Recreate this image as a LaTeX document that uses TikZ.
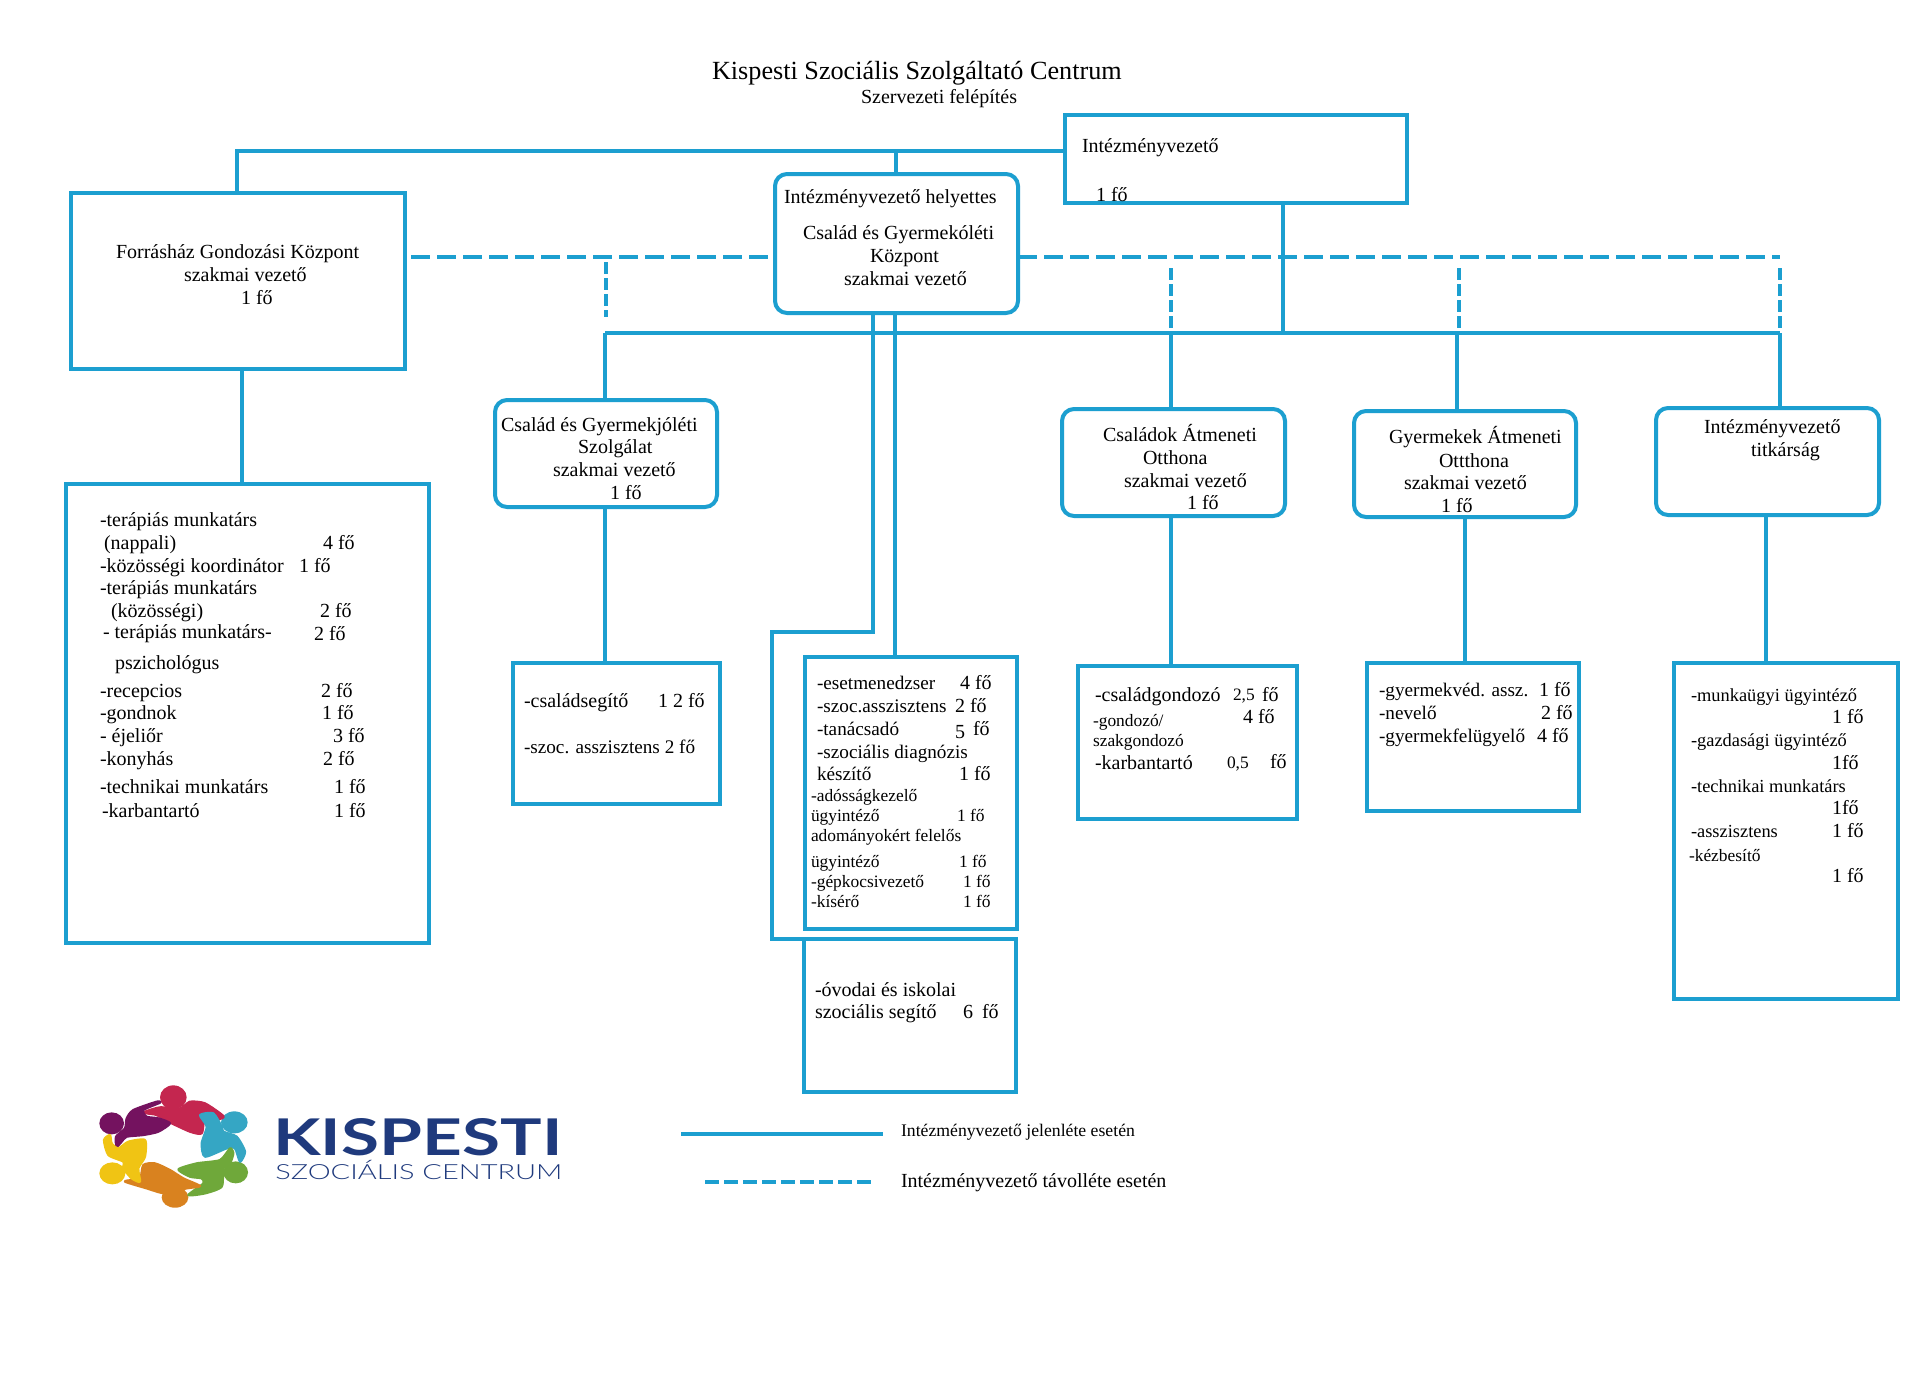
\documentclass[tikz,border=0pt]{standalone}
\usepackage{fontspec}
\usepackage{graphicx}
\setmainfont{Liberation Serif}
\newfontfamily\logofont{Lato}
\newfontfamily\logolight{Lato Light}
\definecolor{lineblue}{HTML}{1C9FD0}
\definecolor{logonavy}{HTML}{1F3A7D}
\definecolor{lgcrimson}{HTML}{C4264F}
\definecolor{lgpurple}{HTML}{74125F}
\definecolor{lgteal}{HTML}{35A6C4}
\definecolor{lggreen}{HTML}{6FA83A}
\definecolor{lgorange}{HTML}{D9821F}
\definecolor{lgyellow}{HTML}{F0C414}
\tikzset{
  plainbox/.style={draw=lineblue,line width=2pt,rectangle,inner sep=0pt,outer sep=0pt},
  roundbox/.style={plainbox,rounded corners=6pt},
  conn/.style={draw=lineblue,line width=1.8pt},
  dashh/.style={draw=lineblue,line width=2.4pt,dash pattern=on 9.5pt off 3.5pt},
  dashv/.style={draw=lineblue,line width=1.7pt,dash pattern=on 6pt off 2pt},
  dashlegend/.style={draw=lineblue,line width=2.2pt,dash pattern=on 7pt off 2.5pt},
  lbl/.style={anchor=base west,inner sep=0pt,outer sep=0pt,text=black,font=\fontsize{10}{12}\selectfont},
  sm/.style={font=\fontsize{8.7}{10}\selectfont},
  sn/.style={font=\fontsize{9.2}{11}\selectfont},
  mid/.style={font=\fontsize{9.6}{11}\selectfont},
  ttl/.style={font=\fontsize{13.1}{15}\selectfont},
  person/.style={line width=1.1pt,line join=round},
}
\newcounter{tn}
\newcommand\T[4][]{\stepcounter{tn}\node[lbl,#1] (t\arabic{tn}) at (#2,#3) {#4};}
\newcommand\Bx[6][plainbox]{\pgfmathsetmacro\bw{(#5-#3)*0.5}\pgfmathsetmacro\bh{(#6-#4)*0.5}%
  \node[#1,minimum width=\bw pt,minimum height=\bh pt] (#2) at ({(#3+#5)/2},{(#4+#6)/2}) {};}
\begin{document}
\begin{tikzpicture}[x=0.5pt,y=-0.5pt]
\useasboundingbox[fill=white] (0,0) rectangle (1920,1392);

% boxes
\Bx{fh}{71}{193}{405}{369}
\Bx{iv}{1065}{115}{1407}{203}
\Bx[roundbox]{dep}{775}{174}{1018}{313}
\Bx[roundbox]{cs}{495}{400}{717}{507}
\Bx[roundbox]{ca}{1062}{409}{1285}{516}
\Bx[roundbox]{gy}{1354}{411}{1576}{517}
\Bx[roundbox]{ti}{1656}{408}{1879}{515}
\Bx{fhs}{66}{484}{429}{943}
\Bx{css}{513}{663}{720}{804}
\Bx{cas}{805}{657}{1017}{929}
\Bx{ov}{804}{939}{1016}{1092}
\Bx{cag}{1078}{666}{1297}{819}
\Bx{gys}{1367}{663}{1579}{811}
\Bx{tis}{1674}{663}{1898}{999}

% bus coordinates
\coordinate (topL) at (237,151);
\coordinate (depx) at (896,151);
\coordinate (busL) at (605,333);
\coordinate (busR) at (1780,333);
\coordinate (ivb)  at (1283,333);
\coordinate (cab)  at (1171,333);
\coordinate (gyb)  at (1457,333);
\coordinate (dl)   at (411,257);
\coordinate (dr)   at (1780,257);
\coordinate (dcs)  at (606,262);
\coordinate (dcse) at (606,317);
\coordinate (dca)  at (1171,268);
\coordinate (dcae) at (1171,328);
\coordinate (dgy)  at (1459,268);
\coordinate (dgye) at (1459,328);
\coordinate (dti)  at (1780,268);
\coordinate (dtie) at (1780,328);
\coordinate (l1a)  at (873,632);
\coordinate (l1b)  at (772,632);
\coordinate (l1c)  at (772,939);
\coordinate (l2)   at (895,400);
\coordinate (fhx)  at (242,400);
\coordinate (tix)  at (1766,600);
\coordinate (gyx)  at (1465,600);

% solid connectors
\draw[conn] (topL |- fh.north) -- (topL) -- (topL -| iv.west);
\draw[conn] (depx) -- (depx |- dep.north);
\draw[conn] (ivb |- iv.south) -- (ivb);
\draw[conn] (busL) -- (busR);
\draw[conn] (busL) -- (busL |- cs.north);
\draw[conn] (cab) -- (cab |- ca.north);
\draw[conn] (gyb) -- (gyb |- gy.north);
\draw[conn] (busR) -- (busR |- ti.north);
\draw[conn] (fhx |- fh.south) -- (fhx |- fhs.north);
\draw[conn] (busL |- cs.south) -- (busL |- css.north);
\draw[conn] (cab |- ca.south) -- (cab |- cag.north);
\draw[conn] (gyx |- gy.south) -- (gyx |- gys.north);
\draw[conn] (tix |- ti.south) -- (tix |- tis.north);
\draw[conn] (l1a |- dep.south) -- (l1a) -- (l1b) -- (l1c) -- (ov.north west);
\draw[conn] (l2 |- dep.south) -- (l2 |- cas.north);

% dashed connectors
\draw[dashh] (dl) -- (dl -| dep.west);
\draw[dashh] (dl -| dep.east) -- (dr);
\draw[dashv] (dcs) -- (dcse);
\draw[dashv] (dca) -- (dcae);
\draw[dashv] (dgy) -- (dgye);
\draw[dashv] (dti) -- (dtie);

% legend
\coordinate (lg1) at (681,1134);
\coordinate (lg1e) at (883,1134);
\coordinate (lg2) at (705,1182);
\coordinate (lg2e) at (874,1182);
\draw[conn,line width=2.2pt] (lg1) -- (lg1e);
\draw[dashlegend] (lg2) -- (lg2e);
\T[font=\fontsize{8.85}{10}\selectfont]{901}{1136}{Intézményvezető jelenléte esetén}
\T{901}{1187}{Intézményvezető távolléte esetén}

% title
\T[ttl]{712}{79}{Kispesti Szociális Szolgáltató Centrum}
\T{861}{103}{Szervezeti felépítés}

% Forrásház
\T{116}{258}{Forrásház Gondozási Központ}
\T{184}{281}{szakmai vezető}
\T{241}{304}{1 fő}
% Deputy
\T{784}{203}{Intézményvezető helyettes}
\T{803}{239}{Család és Gyermekóléti}
\T{870}{262}{Központ}
\T{844}{285}{szakmai vezető}
% Család box
\T{501}{431}{Család és Gyermekjóléti}
\T{578}{453}{Szolgálat}
\T{553}{476}{szakmai vezető}
\T{610}{499}{1 fő}
% Intézményvezető
\T{1082}{152}{Intézményvezető}
\T{1096}{201}{1 fő}
% Családok
\T{1103}{441}{Családok Átmeneti}
\T{1143}{464}{Otthona}
\T{1124}{487}{szakmai vezető}
\T{1187}{509}{1 fő}
% Gyermekek
\T{1389}{443}{Gyermekek Átmeneti}
\T{1439}{467}{Ottthona}
\T{1404}{489}{szakmai vezető}
\T{1441}{512}{1 fő}
% Titkárság
\T{1704}{433}{Intézményvezető}
\T{1751}{456}{titkárság}

% Forrásház staff
\T{100}{526}{-terápiás munkatárs}
\T{104}{549}{(nappali)}\T{323}{549}{4 fő}
\T{100}{572}{-közösségi koordinátor}\T{299}{572}{1 fő}
\T{100}{594}{-terápiás munkatárs}
\T{111}{617}{(közösségi)}\T{320}{617}{2 fő}
\T{103}{638}{- terápiás munkatárs-}\T{314}{640}{2 fő}
\T{115}{669}{pszichológus}
\T{100}{697}{-recepcios}\T{321}{697}{2 fő}
\T{100}{719}{-gondnok}\T{322}{719}{1 fő}
\T{100}{742}{- éjeliőr}\T{333}{742}{3 fő}
\T{100}{765}{-konyhás}\T{323}{765}{2 fő}
\T{100}{793}{-technikai munkatárs}\T{334}{793}{1 fő}
\T{102}{817}{-karbantartó}\T{334}{817}{1 fő}

% Család staff
\T{524}{707}{-családsegítő}\T{658}{707}{1 2 fő}
\T[mid]{524}{753}{-szoc. asszisztens 2 fő}

% Esetmenedzser box
\T[mid]{817}{689}{-esetmenedzser}\T{960}{689}{4 fő}
\T[mid]{817}{712}{-szoc.asszisztens}\T{955}{712}{2 fő}
\T[mid]{817}{735}{-tanácsadó}\T{955}{738}{5}\T{973}{735}{fő}
\T[mid]{817}{758}{-szociális diagnózis}
\T[mid]{817}{780}{készítő}\T{959}{780}{1 fő}
\T[sm]{811}{801}{-adósságkezelő}
\T[sm]{811}{821}{ügyintéző}\T[sm]{957}{821}{1 fő}
\T[sm]{811}{841}{adományokért felelős}
\T[sm]{811}{867}{ügyintéző}\T[sm]{959}{867}{1 fő}
\T[sm]{811}{887}{-gépkocsivezető}\T[sm]{963}{887}{1 fő}
\T[sm]{811}{907}{-kísérő}\T[sm]{963}{907}{1 fő}

% Óvodai box
\T{815}{996}{-óvodai és iskolai}
\T{815}{1018}{szociális segítő}\T{963}{1018}{6}\T{982}{1018}{fő}

% Családok staff
\T{1095}{701}{-családgondozó}\T[sm]{1233}{700}{2,5}\T{1262}{701}{fő}
\T[sm]{1093}{726}{-gondozó/}\T{1243}{723}{4 fő}
\T[sm]{1093}{746}{szakgondozó}
\T{1095}{769}{-karbantartó}\T[sm]{1227}{768}{0,5}\T{1270}{768}{fő}

% Gyermekek staff
\T[mid]{1379}{696}{-gyermekvéd. assz.}\T{1539}{696}{1 fő}
\T[mid]{1379}{719}{-nevelő}\T{1541}{719}{2 fő}
\T[mid]{1379}{742}{-gyermekfelügyelő}\T{1537}{742}{4 fő}

% Titkárság staff
\T[sn]{1691}{701}{-munkaügyi ügyintéző}\T{1832}{723}{1 fő}
\T[sn]{1691}{746}{-gazdasági ügyintéző}\T{1832}{769}{1fő}
\T[sn]{1691}{792}{-technikai munkatárs}\T{1832}{814}{1fő}
\T[sn]{1691}{837}{-asszisztens}\T{1832}{837}{1 fő}
\T[sm]{1689}{861}{-kézbesítő}\T{1832}{882}{1 fő}

% logo figure (coordinates in thirds of a pixel)
\begin{scope}[shift={(90,1080)},x=0.1667pt,y=-0.1667pt]
  \fill[lgcrimson] (250,52) ellipse [x radius=40,y radius=36];
  \fill[lgpurple] (65,130) ellipse [x radius=37,y radius=33];
  \fill[lgteal] (433,127) ellipse [x radius=40,y radius=33];
  \fill[lggreen] (437,277) ellipse [x radius=37,y radius=33];
  \fill[lgorange] (255,352) ellipse [x radius=40,y radius=31];
  \fill[lgyellow] (67,280) ellipse [x radius=39,y radius=33];
  \filldraw[person,lgcrimson] plot[smooth cycle,tension=0.4] coordinates {(165,95)(210,82)(270,85)(300,65)(345,70)(400,108)(385,118)(345,115)(335,160)(300,155)(235,125)(200,105)(170,100)};
  \filldraw[person,lgpurple] plot[smooth cycle,tension=0.4] coordinates {(80,200)(78,170)(105,145)(110,115)(130,90)(200,65)(210,68)(160,90)(170,110)(205,115)(240,130)(205,155)(160,165)(110,170)(95,185)};
  \filldraw[person,lgteal] plot[smooth cycle,tension=0.4] coordinates {(330,105)(370,100)(395,140)(400,155)(440,170)(465,215)(450,245)(435,205)(410,205)(345,230)(335,190)(350,140)};
  \filldraw[person,lggreen] plot[smooth cycle,tension=0.4] coordinates {(265,268)(320,250)(390,240)(420,205)(430,220)(420,250)(400,265)(395,320)(345,340)(295,345)(340,310)(335,295)(300,290)};
  \filldraw[person,lgorange] plot[smooth cycle,tension=0.4] coordinates {(160,255)(195,250)(240,270)(280,295)(330,318)(290,325)(225,340)(170,325)(105,305)(125,300)(150,300)};
  \filldraw[person,lgyellow] plot[smooth cycle,tension=0.4] coordinates {(42,180)(60,165)(65,190)(85,205)(115,185)(165,180)(165,230)(145,265)(150,305)(125,295)(100,265)(100,245)(55,225)};
\end{scope}
\node[anchor=base west,inner sep=0pt,text=logonavy] (lgk) at (273,1155) {\resizebox{144.5pt}{18.5pt}{\logofont\bfseries KISPESTI}};
\node[anchor=base west,inner sep=0pt,text=logonavy] (lgs) at (275,1179) {\resizebox{143.5pt}{9.6pt}{\logolight SZOCIÁLIS CENTRUM}};
\end{tikzpicture}
\end{document}
